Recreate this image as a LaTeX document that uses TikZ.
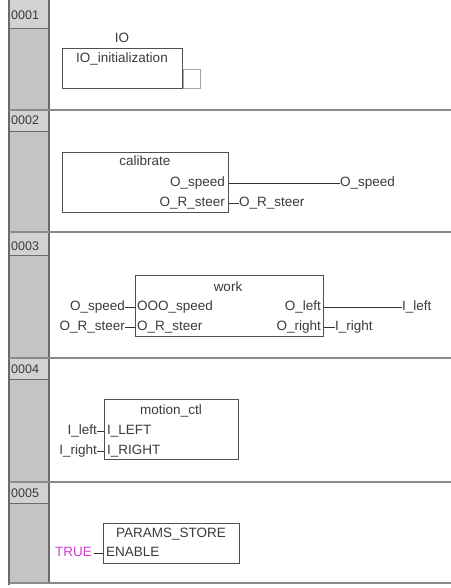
\documentclass[tikz,border=0pt]{standalone}
\usepackage{fontspec}
\setmainfont{Liberation Sans}
\definecolor{colfill}{HTML}{C4C4C4}
\definecolor{cellfill}{HTML}{D2D2D2}
\definecolor{sepc}{HTML}{8A8A8A}
\definecolor{edgec}{HTML}{6A6A6A}
\definecolor{boxc}{HTML}{505050}
\definecolor{txtc}{HTML}{3A3A3A}
\definecolor{truec}{HTML}{D23CD2}
\begin{document}
\begin{tikzpicture}[x=1bp,y=-1bp,
  lbl/.style={font=\fontsize{13.5bp}{16bp}\selectfont, text=txtc, inner sep=0pt},
  numlbl/.style={font=\fontsize{12.5bp}{15bp}\selectfont, text=txtc, inner sep=0pt, anchor=base west},
  fb/.style={draw=boxc, line width=1.1bp, rectangle, anchor=north west, inner sep=0pt},
  wire/.style={draw=black!80, line width=0.9bp},
  sepline/.style={draw=sepc, line width=2bp}]
\useasboundingbox (0,0) rectangle (451,588);
% left column
\fill[colfill] (9,0) rectangle (49,584);
\foreach \ya/\yb in {0/28,111/131,233/255,359/379,483/503}{
  \fill[cellfill] (9,\ya) rectangle (49,\yb);
  \draw[edgec, line width=0.8bp] (9,\yb) -- (49,\yb);
}
\draw[edgec, line width=2bp] (9,0) -- (9,585);
\draw[edgec, line width=1.6bp] (49,0) -- (49,584);
% separators
\foreach \y in {110,232,358,482,583}{
  \draw[sepline] (9,\y) -- (451,\y);
}
% row numbers
\node[numlbl] (n1) at (11,20) {0001};
\node[numlbl] (n2) at (11,125) {0002};
\node[numlbl] (n3) at (11,250) {0003};
\node[numlbl] (n4) at (11,373) {0004};
\node[numlbl] (n5) at (11,497) {0005};

% row 1
\node[fb, minimum width=120bp, minimum height=40bp] (io) at (62,48) {};
\node[lbl, anchor=base] (ioname) at (122,43) {IO};
\node[lbl, anchor=base] (iotype) at (122,63) {IO\_initialization};
\node[draw=black!35, line width=0.8bp, anchor=north west, minimum width=17bp, minimum height=19bp, inner sep=0pt] (ioq) at (183,69) {};

% row 2
\node[fb, minimum width=166bp, minimum height=60bp] (cal) at (62,152) {};
\node[lbl, anchor=base] (caln) at (145,166) {calibrate};
\node[lbl, anchor=base east] (calos) at (225,186) {O\_speed};
\node[lbl, anchor=base east] (calrs) at (225,206) {O\_R\_steer};
\node[lbl, anchor=base west] (vos) at (340,186) {O\_speed};
\node[lbl, anchor=base west] (vrs) at (239,206) {O\_R\_steer};
\draw[wire] (calos.mid east -| cal.east) -- (vos.mid west);
\draw[wire] (calrs.mid east -| cal.east) -- (vrs.mid west);

% row 3
\node[fb, minimum width=188bp, minimum height=61bp] (work) at (135,275) {};
\node[lbl, anchor=base] (workn) at (228,291) {work};
\node[lbl, anchor=base west] (wis) at (137,310) {OOO\_speed};
\node[lbl, anchor=base west] (wir) at (137,330) {O\_R\_steer};
\node[lbl, anchor=base east] (wol) at (321,310) {O\_left};
\node[lbl, anchor=base east] (wor) at (321,330) {O\_right};
\node[lbl, anchor=base east] (vis) at (125,310) {O\_speed};
\node[lbl, anchor=base east] (vir) at (125,330) {O\_R\_steer};
\node[lbl, anchor=base west] (vol) at (402,310) {I\_left};
\node[lbl, anchor=base west] (vor) at (335,330) {I\_right};
\draw[wire] (vis.mid east) -- (vis.mid east -| work.west);
\draw[wire] (vir.mid east) -- (vir.mid east -| work.west);
\draw[wire] (wol.mid east -| work.east) -- (vol.mid west);
\draw[wire] (wor.mid east -| work.east) -- (vor.mid west);

% row 4
\node[fb, minimum width=134bp, minimum height=60bp] (mot) at (104,399) {};
\node[lbl, anchor=base] (motn) at (171,414) {motion\_ctl};
\node[lbl, anchor=base west] (mil) at (107,434) {I\_LEFT};
\node[lbl, anchor=base west] (mir) at (107,454) {I\_RIGHT};
\node[lbl, anchor=base east] (vml) at (97,434) {I\_left};
\node[lbl, anchor=base east] (vmr) at (97,454) {I\_right};
\draw[wire] (vml.mid east) -- (vml.mid east -| mot.west);
\draw[wire] (vmr.mid east) -- (vmr.mid east -| mot.west);

% row 5
\node[fb, minimum width=136bp, minimum height=40bp] (par) at (103,523) {};
\node[lbl, anchor=base] (parn) at (171,537) {PARAMS\_STORE};
\node[lbl, anchor=base west] (pen) at (106,556) {ENABLE};
\node[lbl, anchor=base east, text=truec] (vtr) at (92,556) {TRUE};
\draw[wire] (vtr.mid east) ++(2,0) coordinate (trs) -- (trs -| par.west);
\end{tikzpicture}
\end{document}
